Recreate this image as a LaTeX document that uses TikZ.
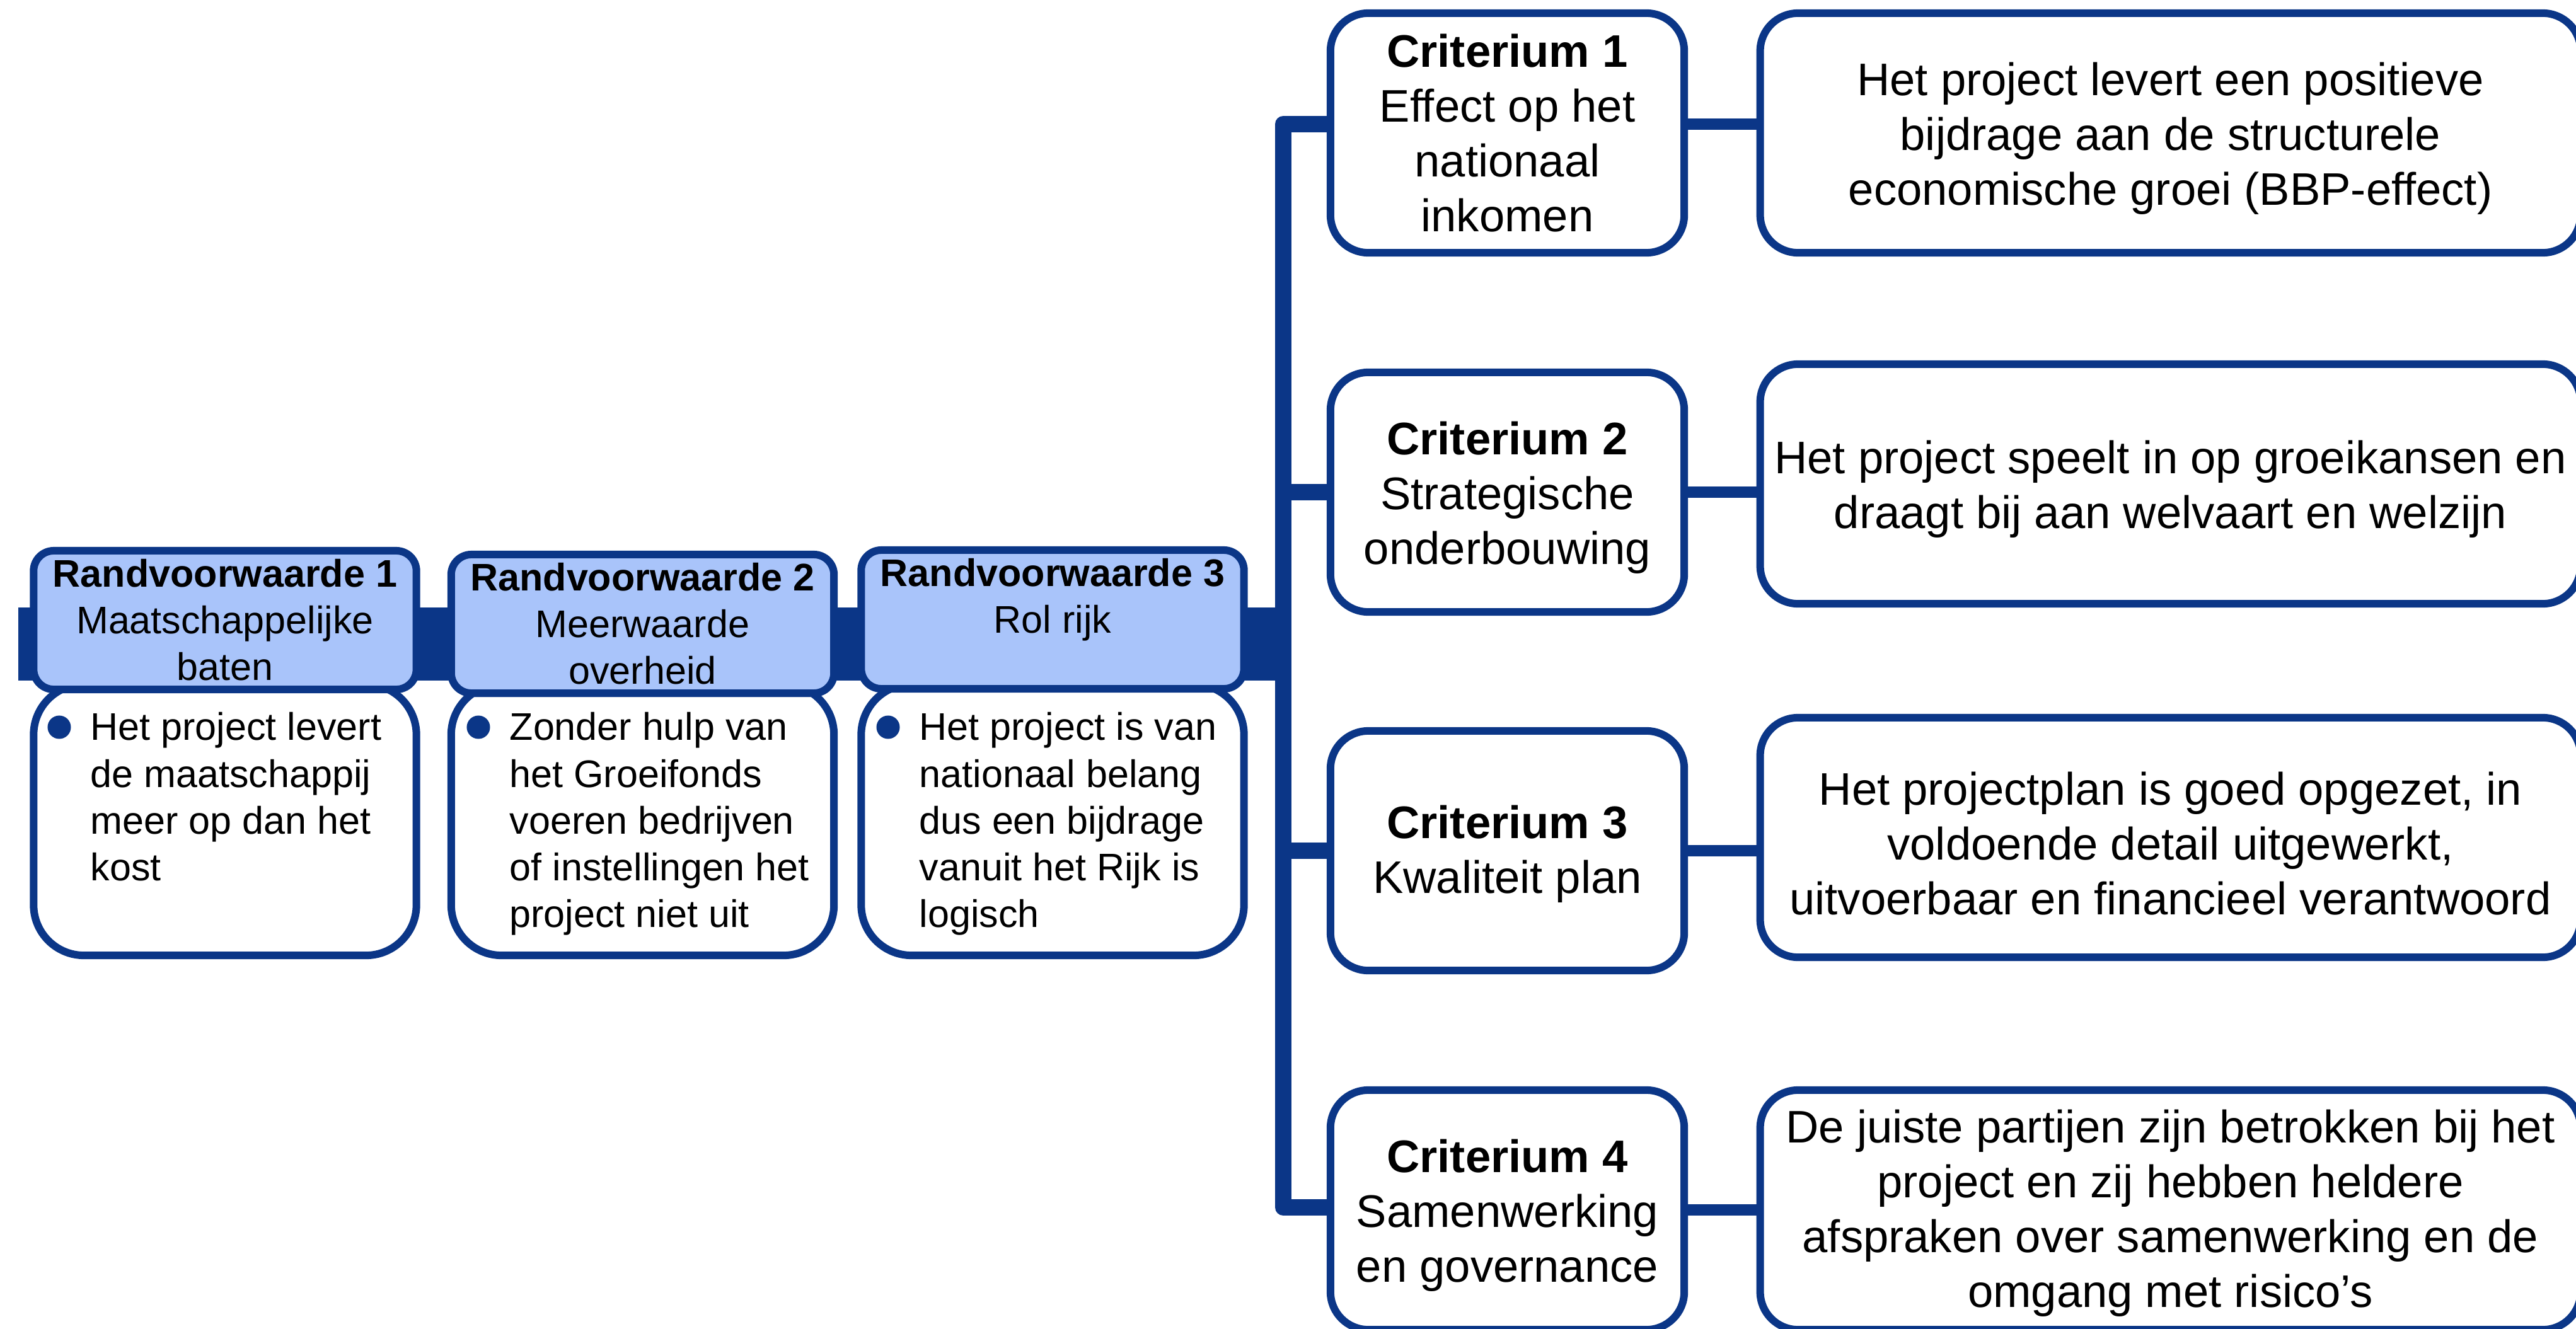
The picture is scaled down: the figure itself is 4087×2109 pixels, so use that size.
\documentclass[tikz,border=0pt]{standalone}
\usepackage{fontspec}
\setmainfont{Liberation Sans}
\usetikzlibrary{calc}
\definecolor{bordblue}{RGB}{11,54,135}
\definecolor{headblue}{RGB}{169,196,250}
\newcommand{\smallfnt}{\fontsize{17.36pt}{21.06pt}\selectfont}
\newcommand{\bigfnt}{\fontsize{20.6pt}{24.75pt}\selectfont}
\tikzset{
  rvhead/.style={draw=bordblue, line width=0.12cm, fill=headblue, rounded corners=0.32cm,
    minimum width=6.07cm, minimum height=2.2cm, inner sep=0pt, align=center, font=\smallfnt, text=black},
  rvbody/.style={draw=bordblue, line width=0.12cm, fill=white, rounded corners=0.8cm,
    minimum width=6.07cm, minimum height=4.3cm, inner sep=0pt},
  bodytext/.style={anchor=north west, inner sep=0pt, align=left, font=\smallfnt},
  bulletdot/.style={circle, fill=bordblue, minimum size=0.37cm, inner sep=0pt},
  critbox/.style={draw=bordblue, line width=0.12cm, fill=white, rounded corners=0.6cm,
    minimum width=5.61cm, minimum height=3.8cm, inner sep=0pt},
  descbox/.style={draw=bordblue, line width=0.12cm, fill=white, rounded corners=0.6cm,
    minimum width=13.01cm, minimum height=3.8cm, inner sep=0pt},
  boxtext/.style={inner sep=0pt, align=center, font=\bigfnt},
  thickbar/.style={draw=bordblue, line width=1.16cm},
  spine/.style={draw=bordblue, line width=0.26cm, line join=round},
  link/.style={draw=bordblue, line width=0.18cm},
}
\begin{document}
\begin{tikzpicture}[x=0.01cm, y=-0.01cm]
\useasboundingbox (0,0) rectangle (4087,2109);
\clip (0,0) rectangle (4087,2109);

% coordinates of the spine and the thick bar
\coordinate (barL) at (29,1022);
\coordinate (barR) at (2036,1022);
\coordinate (spT) at (2036,197);
\coordinate (spB) at (2036,1916);

% thick bar behind the Randvoorwaarde boxes
\draw[thickbar] (barL) -- (barR);

% Randvoorwaarde bodies
\node[rvbody] (B1) at (357,1301) {};
\node[rvbody] (B2) at (1019.5,1301) {};
\node[rvbody] (B3) at (1670,1301) {};

% Randvoorwaarde headers
\node[rvhead] (H1) at (357,984) {\textbf{Randvoorwaarde 1}\\Maatschappelijke\\baten};
\node[rvhead] (H2) at (1019.5,990) {\textbf{Randvoorwaarde 2}\\Meerwaarde\\overheid};
\node[rvhead] (H3) at (1670,983) {\textbf{Randvoorwaarde 3}\\Rol rijk\\\phantom{baten}};

% bullets and body texts
\node[bulletdot] (d1) at (94,1154) {};
\node[bulletdot] (d2) at (759,1154) {};
\node[bulletdot] (d3) at (1409,1154) {};
\node[bodytext] (t1) at (143,1130) {Het project levert\\de maatschappij\\meer op dan het\\kost};
\node[bodytext] (t2) at (808,1130) {Zonder hulp van\\het Groeifonds\\voeren bedrijven\\of instellingen het\\project niet uit};
\node[bodytext] (t3) at (1458,1130) {Het project is van\\nationaal belang\\dus een bijdrage\\vanuit het Rijk is\\logisch};

% criteria boxes
\node[critbox] (C1) at (2391.5,211) {};
\node[critbox] (C2) at (2391.5,781) {};
\node[critbox] (C3) at (2391.5,1350) {};
\node[critbox] (C4) at (2391.5,1920) {};
\node[boxtext] (C1t) at ($(C1.center)+(0,0)$) {\textbf{Criterium 1}\\Effect op het\\nationaal\\inkomen};
\node[boxtext] (C2t) at ($(C2.center)+(0,9)$) {\textbf{Criterium 2}\\Strategische\\onderbouwing};
\node[boxtext] (C3t) at ($(C3.center)+(0,5)$) {\textbf{Criterium 3}\\Kwaliteit plan};
\node[boxtext] (C4t) at ($(C4.center)+(0,9)$) {\textbf{Criterium 4}\\Samenwerking\\en governance};

% description boxes
\node[descbox] (D1) at (3443.5,211) {};
\node[descbox] (D2) at (3443.5,768) {};
\node[descbox] (D3) at (3443.5,1329) {};
\node[descbox] (D4) at (3443.5,1920) {};
\node[boxtext] (D1t) at ($(D1.center)+(0,9)$) {Het project levert een positieve\\bijdrage aan de structurele\\economische groei (BBP-effect)};
\node[boxtext] (D2t) at ($(D2.center)+(0,8)$) {Het project speelt in op groeikansen en\\draagt bij aan welvaart en welzijn};
\node[boxtext] (D3t) at ($(D3.center)+(0,10)$) {Het projectplan is goed opgezet, in\\voldoende detail uitgewerkt,\\uitvoerbaar en financieel verantwoord};
\node[boxtext] (D4t) at ($(D4.center)+(0,5)$) {De juiste partijen zijn betrokken bij het\\project en zij hebben heldere\\afspraken over samenwerking en de\\omgang met risico’s};

% spine
\draw[spine] (C1.west |- spT) -- (spT) -- (spB) -- (C4.west |- spB);
\draw[spine] (C2.west -| spT) -- (C2.west);
\draw[spine] (C3.west -| spT) -- (C3.west);

% criterion to description links
\draw[link] (C1.east |- spT) -- (D1.west |- spT);
\draw[link] (C2.east) -- (C2.east -| D2.west);
\draw[link] (C3.east) -- (C3.east -| D3.west);
\draw[link] (C4.east) -- (C4.east -| D4.west);
\end{tikzpicture}
\end{document}
